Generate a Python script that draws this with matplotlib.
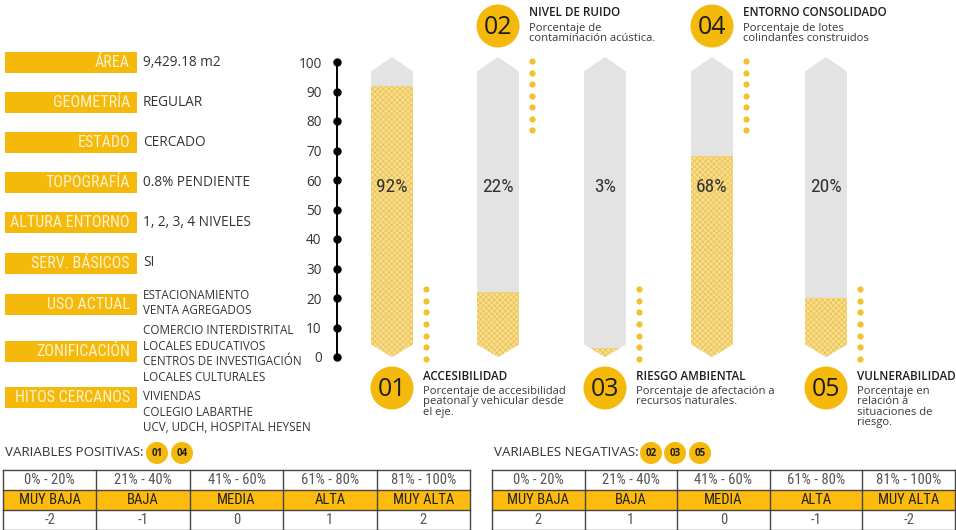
import os
import matplotlib
matplotlib.use("Agg")
import matplotlib.pyplot as plt
from matplotlib import font_manager as fm
from matplotlib.patches import Polygon, Circle, Rectangle
import numpy as np

# ficha del terreno (columna izquierda)
info_labels = ["ÁREA", "GEOMETRÍA", "ESTADO", "TOPOGRAFÍA", "ALTURA ENTORNO",
               "SERV. BÁSICOS", "USO ACTUAL", "ZONIFICACIÓN", "HITOS CERCANOS"]
info_values = ["9,429.18 m2", "REGULAR", "CERCADO", "0.8% PENDIENTE", "1, 2, 3, 4 NIVELES", "SI",
               "ESTACIONAMIENTO\nVENTA AGREGADOS",
               "COMERCIO INTERDISTRITAL\nLOCALES EDUCATIVOS\nCENTROS DE INVESTIGACIÓN\nLOCALES CULTURALES",
               "VIVIENDAS\nCOLEGIO LABARTHE\nUCV, UDCH, HOSPITAL HEYSEN"]

# variables evaluadas
var_codes = ["01", "02", "03", "04", "05"]
var_names = ["ACCESIBILIDAD", "NIVEL DE RUIDO", "RIESGO AMBIENTAL", "ENTORNO CONSOLIDADO", "VULNERABILIDAD"]
var_desc = ["Porcentaje de accesibilidad\npeatonal y vehicular desde\nel eje.",
            "Porcentaje de\ncontaminación acústica.",
            "Porcentaje de afectación a\nrecursos naturales.",
            "Porcentaje de lotes\ncolindantes construidos",
            "Porcentaje en\nrelación a\nsituaciones de\nriesgo."]
var_pct = [92, 22, 3, 68, 20]
y_ticks = list(range(0, 101, 10))

# tablas de valoracion
ranges = ["0% - 20%", "21% - 40%", "41% - 60%", "61% - 80%", "81% - 100%"]
levels = ["MUY BAJA", "BAJA", "MEDIA", "ALTA", "MUY ALTA"]
score_pos = [-2, -1, 0, 1, 2]
score_neg = [2, 1, 0, -1, -2]
pos_codes = ["01", "04"]
neg_codes = ["02", "03", "05"]

YEL = "#f5b90c"
GRAY = "#e3e3e3"
DARK = "#333333"
SANS = ["Open Sans", "DejaVu Sans"]

# buscar una fuente condensada instalada (si no hay, Roboto)
narrow = None
for key in ["robotocondensed-regular", "robotocondensed", "liberationsansnarrow-regular",
            "liberationsansnarrow", "dejavusanscondensed.ttf", "condensed", "narrow"]:
    for f in fm.fontManager.ttflist:
        n = os.path.basename(f.fname).lower().replace(" ", "").replace("_", "")
        if key in n and "bold" not in n and "italic" not in n and "oblique" not in n:
            narrow = f.fname
            break
    if narrow:
        break
if narrow:
    NARROW_FP = fm.FontProperties(fname=narrow)
else:
    NARROW_FP = fm.FontProperties(family=["Roboto", "DejaVu Sans"])


def ntext(axx, x, y, s, size, **kw):
    fp = NARROW_FP.copy()
    fp.set_size(size)
    return axx.text(x, y, s, fontproperties=fp, **kw)


W, H = 956, 530
fig = plt.figure(figsize=(W / 100, H / 100), dpi=100)
fig.patch.set_facecolor("white")

deco = fig.add_axes([0, 0, 1, 1])
deco.set_xlim(0, W)
deco.set_ylim(H, 0)
deco.axis("off")

###### ficha izquierda ######
info_y = [62, 102, 142, 182, 222, 263, 304, 351, 397]
value_y = [62, 102, 142, 182, 222, 263, 303, 354, 412]
for lab, val, yb, yv in zip(info_labels, info_values, info_y, value_y):
    deco.add_patch(Rectangle((5, yb - 10.5), 132, 21, color=YEL, lw=0))
    ntext(deco, 130, yb + 0.5, lab, 11.5, ha="right", va="center", color="#fdf1cc")
    fs = 9.8 if "\n" not in val else 8.4
    deco.text(143, yv, val, ha="left", va="center", color=DARK, fontsize=fs,
              family=SANS, linespacing=1.25)

###### barras ######
bar_x = [392, 498, 605, 712, 826]
side = ["bottom", "top", "bottom", "top", "bottom"]
half = 21
ax = fig.add_axes([337 / W, (H - 357) / H, (W - 337) / W, 295 / H])
ax.set_xlim(337, W)
ax.set_ylim(0, 100)
ax.patch.set_alpha(0)
for s in ["top", "right", "bottom"]:
    ax.spines[s].set_visible(False)
ax.spines["left"].set_linewidth(1.4)
ax.spines["left"].set_color("black")
ax.set_xticks([])
ax.set_yticks(y_ticks)
ax.tick_params(axis="y", length=0, pad=11, labelsize=9.8, labelcolor=DARK)
for t in ax.get_yticklabels():
    t.set_family(SANS)
ax.plot([337] * len(y_ticks), y_ticks, "o", color="black", ms=5, clip_on=False, zorder=5)

shapes = []
for x in bar_x:
    poly = Polygon([(x - half, 4.3), (x, 0), (x + half, 4.3), (x + half, 96.8),
                    (x, 101.7), (x - half, 96.8)], closed=True, color=GRAY, lw=0,
                   clip_on=False)
    ax.add_patch(poly)
    shapes.append(poly)

plt.rcParams["hatch.linewidth"] = 0.55
bars = ax.bar(bar_x, var_pct, width=2 * half, color="#f7dd90", edgecolor="#ecc24e",
              hatch="xxxxxx", lw=0)
for b, poly in zip(bars, shapes):
    b.set_clip_path(poly)

for x, p in zip(bar_x, var_pct):
    ntext(ax, x, 57.6, "%d%%" % p, 14, ha="center", va="center", color=DARK)

###### circulos, titulos y puntos ######
for x, code, name, desc, sd in zip(bar_x, var_codes, var_names, var_desc, side):
    cy = 388 if sd == "bottom" else 26
    ty = 376 if sd == "bottom" else 13
    deco.add_patch(Circle((x, cy), 21.5, color=YEL, lw=0))
    deco.text(x, cy + 1, code, ha="center", va="center", fontsize=18, color="#1e1e1e",
              family=SANS)
    deco.text(x + 31, ty, name, ha="left", va="center", fontsize=8.4, color="#1e1e1e",
              family=SANS, weight="semibold")
    deco.text(x + 31, ty + 10, desc, ha="left", va="top", fontsize=8.1, color="#3a3a3a",
              family=SANS, linespacing=0.92)
    dy = np.linspace(289, 359, 7) if sd == "bottom" else np.linspace(61, 130, 7)
    deco.plot([x + 34] * 7, dy, "o", color="#f2c22c", ms=4.5, mec="none")

###### tablas ######
def tabla(x0, x1, title, codes, scores, code_x):
    deco.text(x0 + 2, 453, title, ha="left", va="center", fontsize=9.6, color=DARK,
              family=SANS)
    for c, cx in zip(codes, code_x):
        deco.add_patch(Circle((cx, 453), 11, color=YEL, lw=0))
        deco.text(cx, 453.5, c, ha="center", va="center", fontsize=7, color="#1e1e1e",
                  family=SANS, weight="bold")
    xs = np.linspace(x0, x1, 6)
    rows = [470, 490, 510, 529.5]
    deco.add_patch(Rectangle((x0, rows[1]), x1 - x0, rows[2] - rows[1], color="#fdbb0d", lw=0))
    for i in range(5):
        cx = (xs[i] + xs[i + 1]) / 2
        ntext(deco, cx, 480.5, ranges[i], 10.5, ha="center", va="center", color="#555555")
        ntext(deco, cx, 500.5, levels[i], 10.5, ha="center", va="center", color="#222222")
        ntext(deco, cx, 520, "%d" % scores[i], 10.5, ha="center", va="center", color="#555555")
    for r in rows:
        deco.plot([x0, x1], [r, r], color="#444444", lw=1)
    for xv in xs:
        deco.plot([xv, xv], [rows[0], rows[-1]], color="#444444", lw=1)

tabla(3, 470, "VARIABLES POSITIVAS:", pos_codes, score_pos, [157, 182])
tabla(492, 955, "VARIABLES NEGATIVAS:", neg_codes, score_neg, [651, 675, 700])

fig.savefig("out.png", dpi=100, facecolor="white")
